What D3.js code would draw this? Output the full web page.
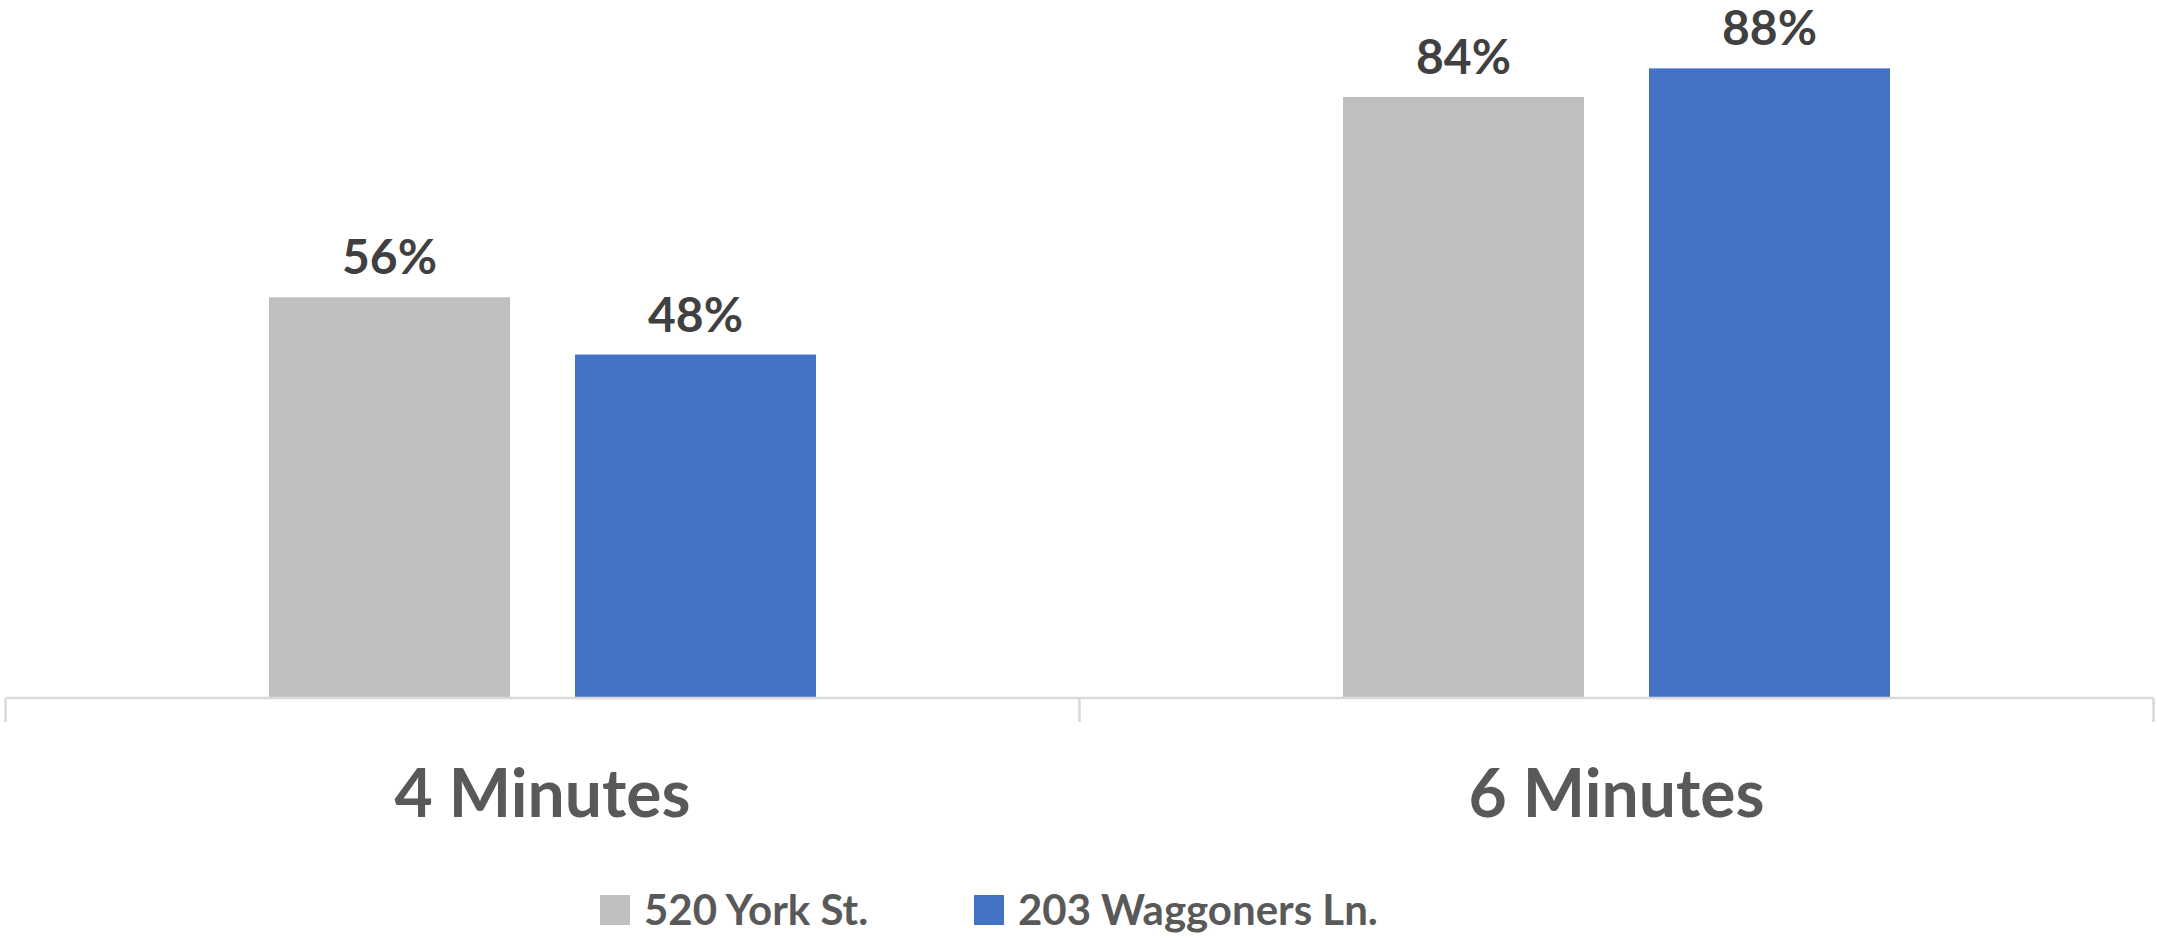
<!DOCTYPE html>
<html>
<head>
<meta charset="utf-8">
<script src="https://cdn.jsdelivr.net/npm/d3@7"></script>
<style>
  html, body { margin: 0; padding: 0; background: #fff; }
  svg { display: block; font-family: Lato, "Open Sans", sans-serif; }
</style>
</head>
<body>
<svg id="chart" width="2157" height="938"></svg>
<script>
const categories = ['4 Minutes', '6 Minutes'];
const seriesNames = ['520 York St.', '203 Waggoners Ln.'];
const yorkValues = [56, 84];
const waggonersValues = [48, 88];
const colors = ['#BFBFBF', '#4472C4'];

const baseline = 698;

const svg = d3.select('#chart');

const rows = categories.map((c, i) => ({
    category: c,
    values: [
        { name: seriesNames[0], value: yorkValues[i] },
        { name: seriesNames[1], value: waggonersValues[i] },
    ],
}));

const x0 = d3.scaleBand().domain(categories).range([5.5, 2153.5]);
const x1 = d3.scaleBand().domain(seriesNames)
    .range([0, x0.bandwidth()])
    .paddingInner(0.2124)
    .paddingOuter(0.861);
// 100% sits just above the top edge of the picture
const y = d3.scaleLinear().domain([0, 100]).range([baseline, baseline - 715.5]);
const color = d3.scaleOrdinal().domain(seriesNames).range(colors);

const groups = svg.append('g').selectAll('g')
    .data(rows)
    .enter()
    .append('g')
    .attr('transform', d => `translate(${x0(d.category)},0)`);

groups.selectAll('rect')
    .data(d => d.values)
    .enter()
    .append('rect')
    .attr('x', d => x1(d.name))
    .attr('y', d => y(d.value))
    .attr('width', x1.bandwidth())
    .attr('height', d => y(0) - y(d.value))
    .style('fill', d => color(d.name));

groups.selectAll('text')
    .data(d => d.values)
    .enter()
    .append('text')
    .attr('x', d => x1(d.name) + x1.bandwidth() / 2)
    .attr('y', d => y(d.value) - 23)
    .attr('text-anchor', 'middle')
    .style('font-size', '48px')
    .style('font-weight', 'bold')
    .style('fill', '#404040')
    .text(d => d.value + '%');

// category axis
const axis = svg.append('g').attr('transform', `translate(0,${baseline})`);
axis.append('line')
    .attr('x1', x0.range()[0]).attr('x2', x0.range()[1])
    .attr('y1', 0).attr('y2', 0)
    .style('stroke', '#D9D9D9').style('stroke-width', 2.5);
const edges = categories.map(c => x0(c)).concat([x0.range()[1]]);
axis.selectAll('.edge')
    .data(edges)
    .enter()
    .append('line')
    .attr('class', 'edge')
    .attr('x1', d => d).attr('x2', d => d)
    .attr('y1', 0).attr('y2', 24)
    .style('stroke', '#D9D9D9').style('stroke-width', 2.5);
axis.selectAll('.cat')
    .data(categories)
    .enter()
    .append('text')
    .attr('class', 'cat')
    .attr('x', d => x0(d) + x0.bandwidth() / 2)
    .attr('y', 119)
    .attr('text-anchor', 'middle')
    .style('font-size', '66px')
    .style('font-weight', 'bold')
    .style('fill', '#595959')
    .text(d => d);

// legend
const legendX = [600, 974];
const legend = svg.append('g').selectAll('g')
    .data(seriesNames)
    .enter()
    .append('g')
    .attr('transform', (d, i) => `translate(${legendX[i]},895)`);
legend.append('rect')
    .attr('width', 30).attr('height', 30)
    .style('fill', d => color(d));
legend.append('text')
    .attr('x', 44)
    .attr('y', 30)
    .style('font-size', '42px')
    .style('font-weight', 'bold')
    .style('fill', '#595959')
    .text(d => d);
</script>
</body>
</html>
